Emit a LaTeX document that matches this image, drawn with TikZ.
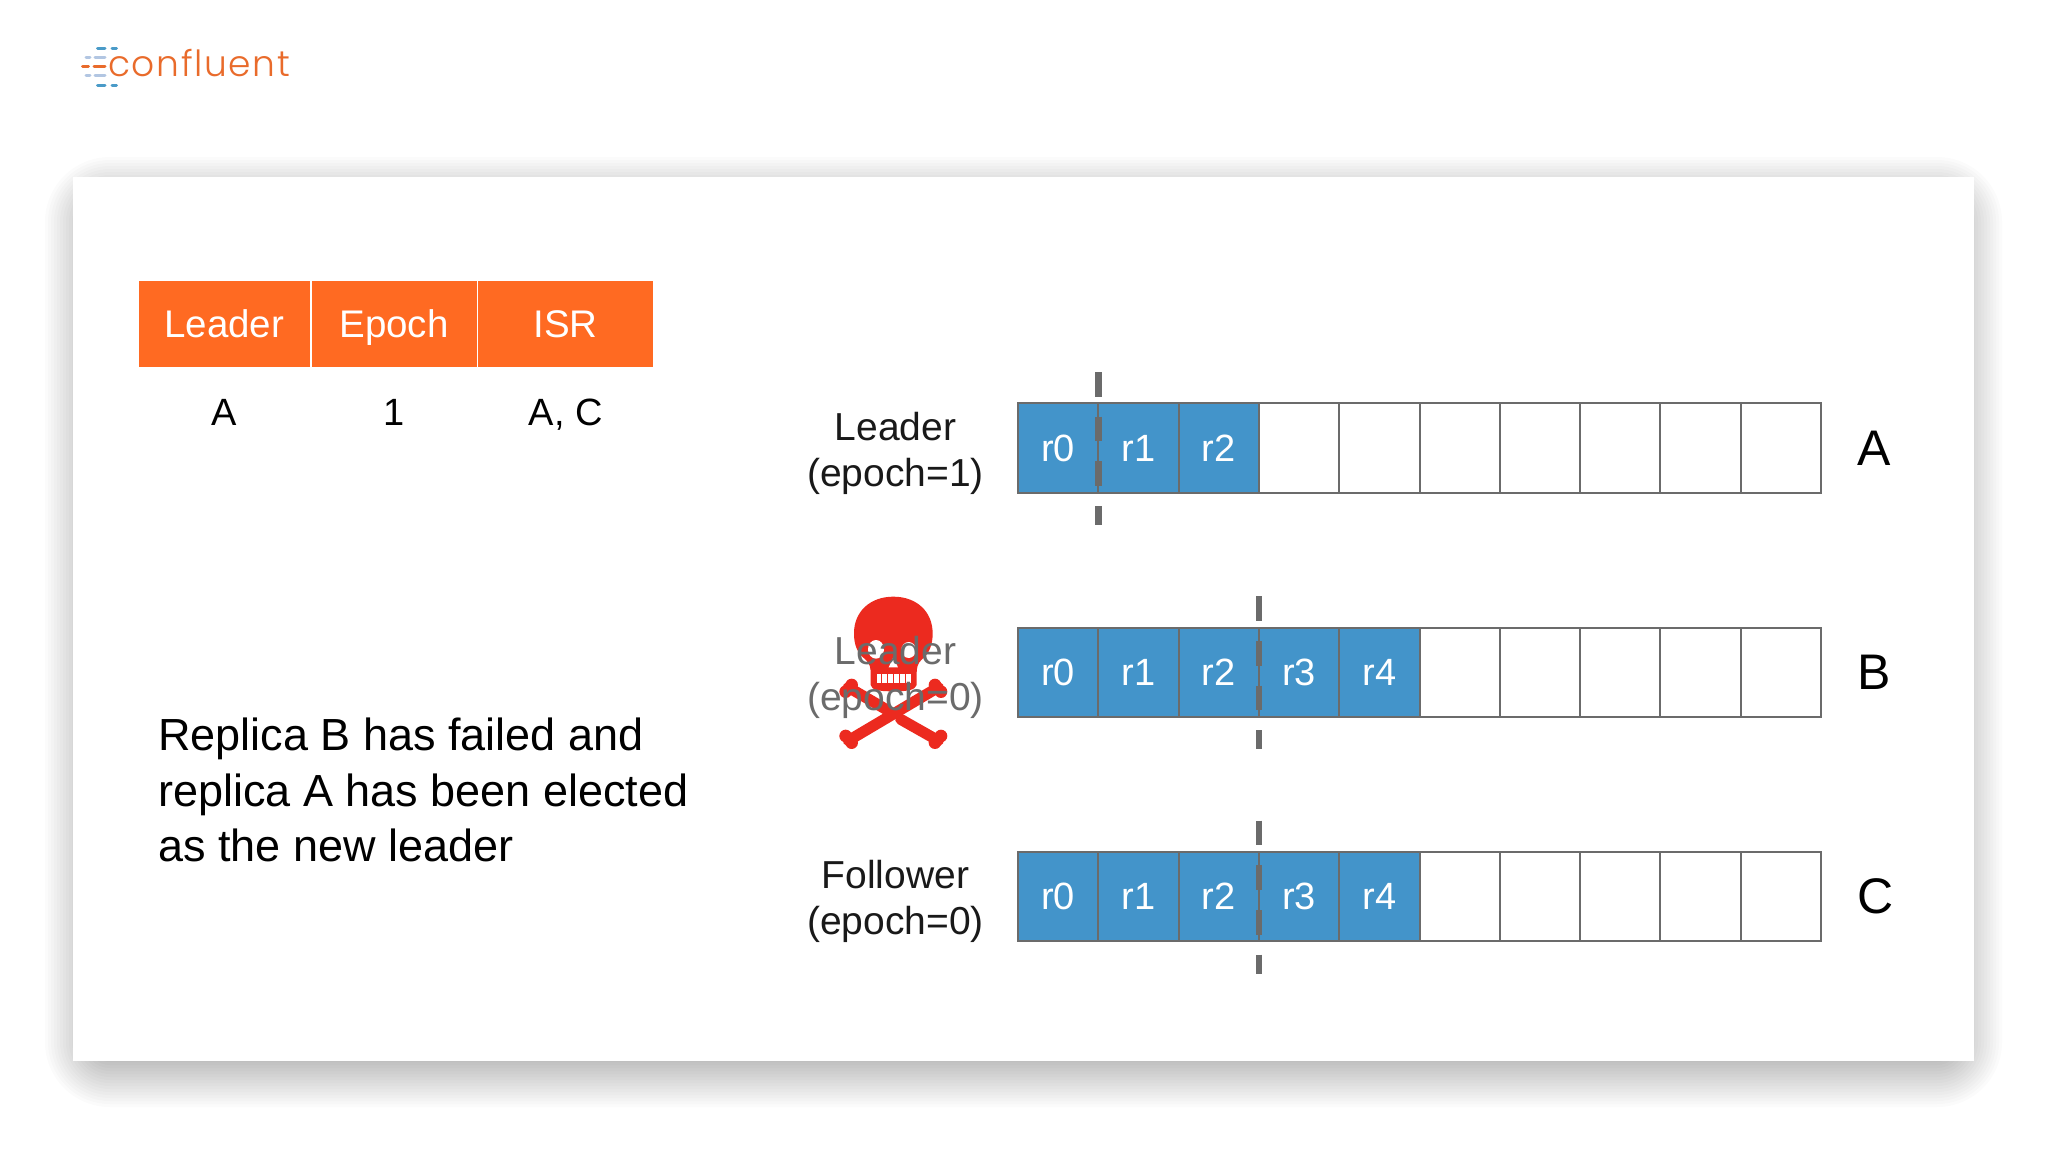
\documentclass[tikz,border=0pt]{standalone}
\usepackage{fontspec}
\setmainfont{Liberation Sans}
\newfontfamily\logofont[UprightFont=* Light,LetterSpace=4.5]{Poppins}
\usepackage{tikz}
\usetikzlibrary{positioning}

\definecolor{headorange}{HTML}{FF6A22}
\definecolor{logoorange}{HTML}{E96B2B}
\definecolor{logoblue}{HTML}{4A9BC8}
\definecolor{logopale}{HTML}{B2C6E2}
\definecolor{cellblue}{HTML}{4394CA}
\definecolor{edgegray}{HTML}{6B6B6B}
\definecolor{skullred}{HTML}{EC2A1F}

\begin{document}
\begin{tikzpicture}[x=1pt, y=-1pt]
\tikzstyle{panel} = [rectangle, fill=white, inner sep=0pt, outer sep=0pt, minimum width=1900.7pt, minimum height=884pt]
\tikzstyle{head} = [rectangle, fill=headorange, text=white, inner sep=0pt, outer sep=0pt, text height=56.4pt, text depth=29.3pt, font=\fontsize{38.5}{46}\selectfont]
\tikzstyle{value} = [inner sep=0pt, text height=28pt, text depth=8pt, font=\fontsize{38}{46}\selectfont]
\tikzstyle{cell} = [rectangle, draw=edgegray, line width=2pt, inner sep=0pt, outer sep=0pt, minimum width=80.3pt, minimum height=89.4pt]
\tikzstyle{full} = [cell, fill=cellblue, text=white, font=\fontsize{38}{46}\selectfont]
\tikzstyle{rolelabel} = [inner sep=0pt, align=center, yshift=-5pt, font=\fontsize{39}{46}\selectfont]
\tikzstyle{rowname} = [inner sep=0pt, minimum width=34pt, font=\fontsize{50}{60}\selectfont]
\tikzstyle{hwmark} = [edgegray, line width=6.5pt, dash pattern=on 24.7pt off 20pt]
\tikzstyle{logodash} = [line width=3pt, line cap=round]

\useasboundingbox (0,0) rectangle (2048,1152);
\fill[white] (0,0) rectangle (2048,1152);

% soft shadow under the panel
\foreach \d [evaluate=\d as \r using \d+32] in {-30,-27,...,33}
  \fill[black, opacity=0.015, rounded corners=\r pt] (78-\d,190-\d) rectangle (1969+\d,1074+\d);

\node[panel] (sheet) at (1023.65,618.7) {};

% logo
\node[anchor=base west, inner sep=0pt, text=logoorange, font=\logofont\fontsize{36}{40}\selectfont] (logo) at (108,76) {confluent};
\foreach \y in {48.3,85} {
  \draw[logodash, logoblue] (97.5,\y) -- (105,\y);
  \draw[logodash, logoblue] (112,\y) -- (116.5,\y);
}
\foreach \y in {57.3,75.3} {
  \draw[logodash, logopale] (86,\y) -- (90,\y);
  \draw[logodash, logopale] (95,\y) -- (105,\y);
}
\draw[logodash, logoorange] (82.5,66.7) -- (88.5,66.7);
\draw[logodash, logoorange] (94,66.7) -- (105,66.7);

% table
\node[head, minimum width=170.5pt] (hleader) at (224.25,324.15) {Leader};
\node[head, minimum width=165pt, right=2pt of hleader] (hepoch) {Epoch};
\node[head, minimum width=175pt, right=1.7pt of hepoch] (hisr) {ISR};
\node[value, below=30pt of hleader] (vleader) {A};
\node[value, below=30pt of hepoch] (vepoch) {1};
\node[value, below=30pt of hisr] (visr) {A, C};

\node[anchor=north west, inner sep=0pt, align=left, font=\fontsize{45}{55.5}\selectfont] (note) at (158,718) {Replica B has failed and\\replica A has been elected\\as the new leader};

% replica A
\node[full] (a0) at (1058.2,448) {r0};
\node[full, right=0pt of a0] (a1) {r1};
\node[full, right=0pt of a1] (a2) {r2};
\foreach \i [remember=\i as \prev (initially 2)] in {3,...,9}
  \node[cell, right=0pt of a\prev] (a\i) {};

% replica B
\node[full] (b0) at (1058.2,672.3) {r0};
\node[full, right=0pt of b0] (b1) {r1};
\node[full, right=0pt of b1] (b2) {r2};
\node[full, right=0pt of b2] (b3) {r3};
\node[full, right=0pt of b3] (b4) {r4};
\foreach \i [remember=\i as \prev (initially 4)] in {5,...,9}
  \node[cell, right=0pt of b\prev] (b\i) {};

% replica C
\node[full] (c0) at (1058.2,896.6) {r0};
\node[full, right=0pt of c0] (c1) {r1};
\node[full, right=0pt of c1] (c2) {r2};
\node[full, right=0pt of c2] (c3) {r3};
\node[full, right=0pt of c3] (c4) {r4};
\foreach \i [remember=\i as \prev (initially 4)] in {5,...,9}
  \node[cell, right=0pt of c\prev] (c\i) {};

\draw[hwmark] ([yshift=31.3pt]a0.north east) -- ([yshift=-32.3pt]a0.south east);
\draw[hwmark] ([yshift=31.3pt]b2.north east) -- ([yshift=-32.3pt]b2.south east);
\draw[hwmark] ([yshift=31.3pt]c2.north east) -- ([yshift=-32.3pt]c2.south east);

% skull, in units of a third of a pixel
\begin{scope}[shift={(780,570)}, x=0.3333pt, y=-0.3333pt, skullred]
\fill (340,80) .. controls (270,80) and (222,125) .. (222,190) .. controls (222,225) and (232,250) .. (256,268) .. controls (270,280) and (272,295) .. (272,310) -- (272,345) .. controls (275,360) and (295,364) .. (340,364) .. controls (385,364) and (405,360) .. (410,345) -- (410,310) .. controls (410,295) and (412,280) .. (426,268) .. controls (448,250) and (458,225) .. (458,190) .. controls (458,125) and (410,80) .. (340,80) -- cycle;
\fill[white] (288,238) ellipse (24 and 28);
\fill[white] (386,240) ellipse (22 and 24);
\fill[white] (340,262) -- (326,292) -- (354,292) -- cycle;
\foreach \t in {297,315,333,351,369,387}
  \fill[white] (\t-7.5,313) rectangle (\t+7.5,338);
\draw[line width=11pt, line cap=round] (205,352) -- (318,418);
\draw[line width=11pt, line cap=round] (362,448) -- (475,512);
\draw[line width=11pt, line cap=round] (475,352) -- (205,512);
\foreach \kx/\ky in {215/345,197/365,465/345,483/365,197/498,215/518,483/498,465/518}
  \fill (\kx,\ky) circle (19);
\end{scope}

% row labels
\node[rolelabel, text=black!90, left=34pt of a0] (rolea) {Leader\\(epoch=1)};
\node[rolelabel, text=edgegray, left=34pt of b0] (roleb) {Leader\\(epoch=0)};
\node[rolelabel, text=black!90, left=34pt of c0] (rolec) {Follower\\(epoch=0)};

\node[rowname, right=36pt of a9] (namea) {A};
\node[rowname, right=36pt of b9] (nameb) {B};
\node[rowname, right=36pt of c9] (namec) {C};
\end{tikzpicture}
\end{document}
